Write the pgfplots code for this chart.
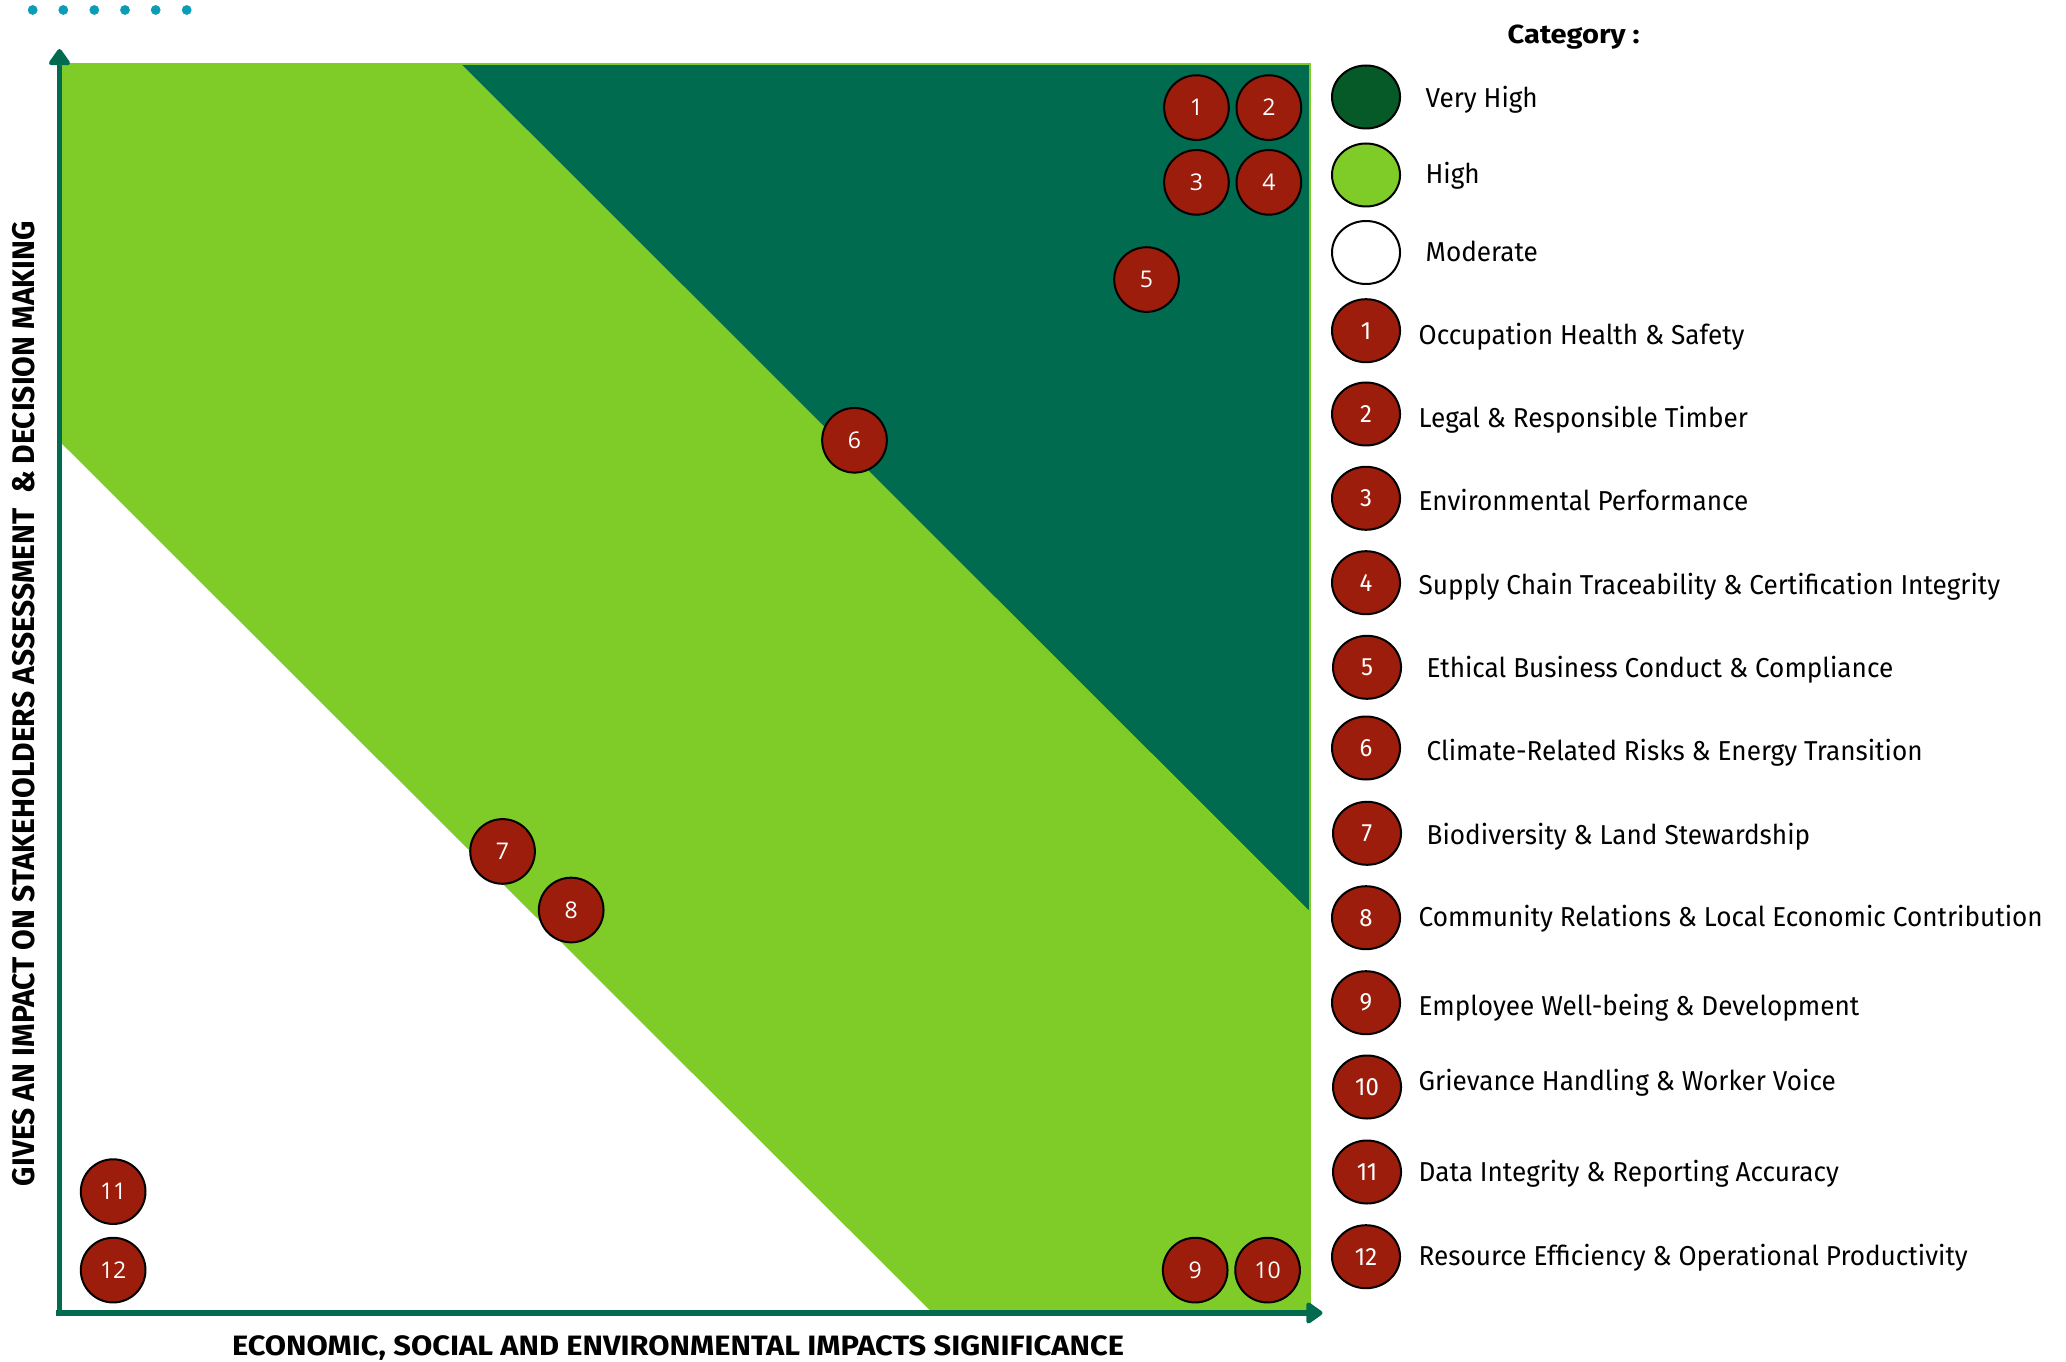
\documentclass[border=0pt]{standalone}
\usepackage{fontspec}
\usepackage{graphicx}
\usepackage{pgfplots}
\pgfplotsset{compat=1.18}
\usepackage{pgfplotstable}
\usetikzlibrary{arrows.meta}

\newfontfamily\legfont{Fira Sans}
\newfontfamily\numfont{Open Sans}

\definecolor{zoneVH}{HTML}{006B4F}
\definecolor{zoneH}{HTML}{7FCB28}
\definecolor{keyVH}{HTML}{055A27}
\definecolor{bubble}{HTML}{9C1D0C}
\definecolor{axisgreen}{HTML}{006B4F}
\definecolor{dotteal}{HTML}{0B9DB5}

% topic positions: significance (x) vs. stakeholder influence (y), 0-100
\pgfplotstableread{
x    y     id
90.9 96.5  1
96.7 96.5  2
90.9 90.5  3
96.7 90.5  4
86.9 82.7  5
63.5 69.8  6
35.3 36.8  7
40.8 32.1  8
90.8 3.2   9
96.6 3.2   10
4.1  9.5   11
4.1  3.2   12
}\topics

% key markers, page layout units (1 unit = 0.3pt, y downwards)
\pgfplotstableread{
x    y      id
1366 330.7  1
1366 414.0  2
1366 498.3  3
1366 582.7  4
1367 667.3  5
1366 748.0  6
1367 833.3  7
1366 917.7  8
1366 1002.7 9
1367 1087.0 10
1367 1172.0 11
1366 1256.7 12
}\keynums

\newcommand\legsize{\fontsize{8.2}{9}\selectfont}
\newlength\natw

\begin{document}
\settowidth\natw{\legfont\legsize Community Relations \& Local Economic Contribution}%
\pgfmathsetmacro\legsx{187.2/\natw}%
\begin{tikzpicture}
\useasboundingbox (0,0) rectangle (619.8pt,408.6pt);

% ---- materiality matrix ----
\begin{axis}[
  at={(18.6pt,15.6pt)}, anchor=south west,
  width=374.4pt, height=373.8pt, scale only axis,
  xmin=0, xmax=100, ymin=0, ymax=100,
  hide axis, clip=false]
  % High zone (whole square), Very High and Moderate triangles
  \addplot[fill=zoneH, draw=none] coordinates {(0,0) (100,0) (100,100) (0,100)} -- cycle;
  \addplot[fill=zoneVH, draw=none] coordinates {(32,100) (100,100) (100,32)} -- cycle;
  \addplot[fill=white, draw=none] coordinates {(0,0) (69.5,0) (0,69.5)} -- cycle;
  \addplot[draw=zoneH, line width=0.6pt] coordinates {(0,100) (100,100) (100,0)};

  % axes with arrow heads
  \draw[axisgreen, line width=1.65pt, -{Triangle[length=5.4pt,width=7.2pt,round]}]
    (axis cs:-0.2,-0.48) -- (axis cs:-0.2,101.2);
  \draw[axisgreen, line width=1.65pt, -{Triangle[length=5.4pt,width=7.2pt,round]}]
    (axis cs:-0.45,-0.24) -- (axis cs:101.0,-0.24);

  % topics
  \addplot[only marks, mark=*, mark size=9.7pt,
    mark options={fill=bubble, draw=black, line width=0.6pt},
    point meta=explicit symbolic, nodes near coords,
    every node near coord/.append style={anchor=center, inner sep=0pt,
      text=white, font=\numfont\fontsize{6.9}{8}\selectfont}]
    table[x=x, y=y, meta=id] \topics;
\end{axis}

% ---- titles and key ----
\begin{axis}[
  at={(0pt,0pt)}, anchor=south west,
  width=619.8pt, height=408.6pt, scale only axis,
  xmin=0, xmax=2066, ymin=0, ymax=1362, y dir=reverse,
  hide axis, clip=false]
  % decorative dots
  \addplot[only marks, mark=*, mark size=1.25pt, color=dotteal]
    coordinates {(32.7,10) (63.3,10) (94.3,10) (125,10) (155.7,10) (186.7,10)};

  % key swatches
  \addplot[only marks, mark=*, mark size=9.45pt,
    mark options={xscale=1.08, fill=keyVH, draw=black, line width=0.6pt}]
    coordinates {(1366,97)};
  \addplot[only marks, mark=*, mark size=9.45pt,
    mark options={xscale=1.08, fill=zoneH, draw=black, line width=0.6pt}]
    coordinates {(1366,175)};
  \addplot[only marks, mark=*, mark size=9.45pt,
    mark options={xscale=1.08, fill=white, draw=black, line width=0.6pt}]
    coordinates {(1366,252.5)};
  \addplot[only marks, mark=*, mark size=9.45pt,
    mark options={xscale=1.08, fill=bubble, draw=black, line width=0.6pt},
    point meta=explicit symbolic,
    nodes near coords={\scalebox{\legsx}[1]{\pgfplotspointmeta}},
    every node near coord/.append style={anchor=center, inner sep=0pt,
      text=white, font=\legfont\fontsize{7.5}{8}\selectfont}]
    table[x=x, y=y, meta=id] \keynums;

  \begin{scope}[every node/.style={anchor=base west, inner sep=0pt, font=\legfont\legsize}]
    \node at (axis cs:1425,107.3) {\scalebox{\legsx}[1]{Very High}};
    \node at (axis cs:1425,183.5) {\scalebox{\legsx}[1]{High}};
    \node at (axis cs:1425,261.5) {\scalebox{\legsx}[1]{Moderate}};
    \node at (axis cs:1418,344.8) {\scalebox{\legsx}[1]{Occupation Health \& Safety}};
    \node at (axis cs:1418,427.7) {\scalebox{\legsx}[1]{Legal \& Responsible Timber}};
    \node at (axis cs:1418,511.0) {\scalebox{\legsx}[1]{Environmental Performance}};
    \node at (axis cs:1418,594.5) {\scalebox{\legsx}[1]{Supply Chain Traceability \& Certification Integrity}};
    \node at (axis cs:1426,677.7) {\scalebox{\legsx}[1]{Ethical Business Conduct \& Compliance}};
    \node at (axis cs:1426,760.7) {\scalebox{\legsx}[1]{Climate-Related Risks \& Energy Transition}};
    \node at (axis cs:1426,844.3) {\scalebox{\legsx}[1]{Biodiversity \& Land Stewardship}};
    \node at (axis cs:1418,926.8) {\scalebox{\legsx}[1]{Community Relations \& Local Economic Contribution}};
    \node at (axis cs:1418,1015.0) {\scalebox{\legsx}[1]{Employee Well-being \& Development}};
    \node at (axis cs:1418,1090.3) {\scalebox{\legsx}[1]{Grievance Handling \& Worker Voice}};
    \node at (axis cs:1418,1181.8) {\scalebox{\legsx}[1]{Data Integrity \& Reporting Accuracy}};
    \node at (axis cs:1418,1265.7) {\scalebox{\legsx}[1]{Resource Efficiency \& Operational Productivity}};
  \end{scope}

  \node[anchor=base, inner sep=0pt] at (axis cs:1573.6,43.3)
    {\resizebox{39.6pt}{\height}{\legfont\bfseries\fontsize{7.85}{9}\selectfont Category :}};
  \node[anchor=base, inner sep=0pt] at (axis cs:678,1355)
    {\resizebox{267.6pt}{\height}{\legfont\bfseries\fontsize{8.4}{9}\selectfont ECONOMIC, SOCIAL AND ENVIRONMENTAL IMPACTS SIGNIFICANCE}};
  \node[anchor=base, inner sep=0pt, rotate=90] at (axis cs:34,703.5)
    {\resizebox{289.5pt}{\height}{\legfont\bfseries\fontsize{9.35}{10}\selectfont GIVES AN IMPACT ON STAKEHOLDERS ASSESSMENT\ \ \& DECISION MAKING}};
\end{axis}
\end{tikzpicture}
\end{document}
